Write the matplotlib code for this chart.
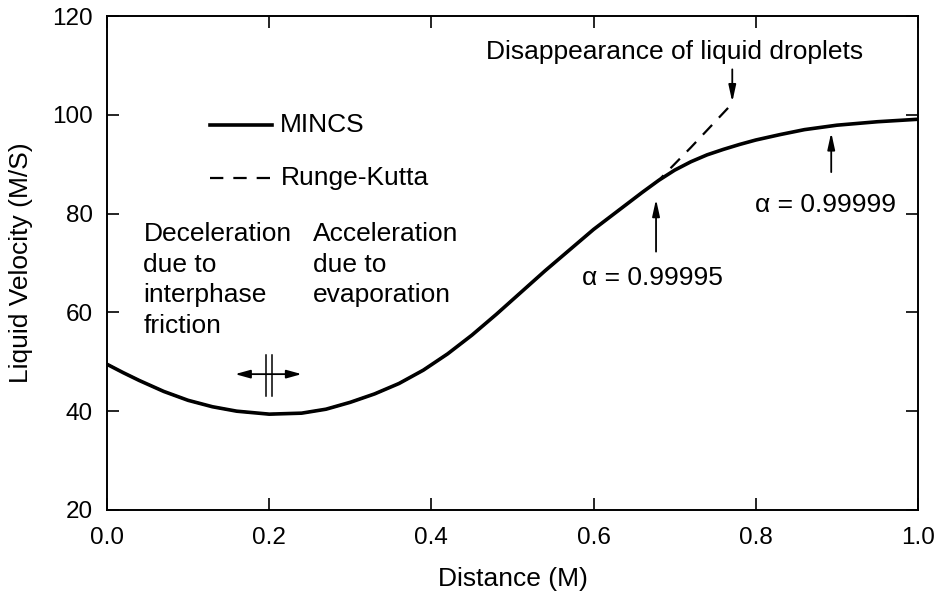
import matplotlib
matplotlib.use("Agg")
import matplotlib.pyplot as plt

plt.rcParams['font.family'] = ['Liberation Sans', 'DejaVu Sans']

# dane
distance = [0.00, 0.02, 0.04, 0.07, 0.10, 0.13, 0.16, 0.20, 0.24, 0.27, 0.30,
            0.33, 0.36, 0.39, 0.42, 0.45, 0.48, 0.51, 0.54, 0.57, 0.60, 0.62,
            0.64, 0.66, 0.68, 0.70, 0.72, 0.74, 0.76, 0.78, 0.80, 0.83, 0.86,
            0.90, 0.95, 1.00]
mincs = [49.5, 47.8, 46.2, 44.0, 42.2, 40.9, 40.0, 39.4, 39.6, 40.4, 41.8,
         43.5, 45.6, 48.3, 51.6, 55.4, 59.6, 64.0, 68.4, 72.6, 76.8, 79.3,
         81.8, 84.3, 86.7, 88.8, 90.5, 91.9, 93.0, 94.0, 94.9, 96.0, 97.0,
         97.9, 98.6, 99.1]

rk_distance = distance[:25] + [0.72, 0.771]
rk_velocity = mincs[:25] + [93.4, 102.3]

x_ticks = [0.0, 0.2, 0.4, 0.6, 0.8, 1.0]
x_labels = ["0.0", "0.2", "0.4", "0.6", "0.8", "1.0"]
y_ticks = [20, 40, 60, 80, 100, 120]

fig = plt.figure(figsize=(9.4, 5.98), dpi=100)
ax = fig.add_axes([0.1138, 0.1472, 0.8628, 0.826])

ax.plot(distance, mincs, color='black', lw=2.6, solid_capstyle='butt',
        solid_joinstyle='round')
ax.plot(rk_distance, rk_velocity, color='black', lw=1.6, linestyle=(0, (6, 4.5)))

ax.set_xlim(0, 1.0)
ax.set_ylim(20, 120)
ax.set_xticks(x_ticks)
ax.set_xticklabels(x_labels)
ax.set_yticks(y_ticks)
ax.tick_params(direction='in', length=8.5, width=1.2, labelsize=17.5,
               top=True, right=True)
ax.tick_params(axis='x', pad=12)
ax.tick_params(axis='y', pad=10)
for s in ax.spines.values():
    s.set_linewidth(1.4)

ax.set_xlabel('Distance (M)', fontsize=19, labelpad=13)
ax.set_ylabel('Liquid Velocity (M/S)', fontsize=19, labelpad=14)

# legenda recznie, jak w oryginale
ax.plot([0.127, 0.203], [97.9, 97.9], color='black', lw=2.6)
ax.text(0.213, 97.9, 'MINCS', fontsize=19, va='center', ha='left')
ax.plot([0.127, 0.203], [87.2, 87.2], color='black', lw=1.6, linestyle=(0, (6, 4.5)))
ax.text(0.215, 87.2, 'Runge-Kutta', fontsize=19, va='center', ha='left')

# opisy
ax.text(0.045, 78.3, 'Deceleration\ndue to\ninterphase\nfriction', fontsize=19,
        va='top', ha='left', linespacing=1.35)
ax.text(0.254, 78.3, 'Acceleration\ndue to\nevaporation', fontsize=19,
        va='top', ha='left', linespacing=1.35)

arrow = dict(arrowstyle='-|>,head_length=1.0,head_width=0.22', color='black',
             lw=1.3, shrinkA=0, shrinkB=0)

ax.text(0.70, 112.7, 'Disappearance of liquid droplets', fontsize=19,
        va='center', ha='center')
ax.annotate('', xy=(0.771, 102.6), xytext=(0.771, 109.2), arrowprops=arrow)

ax.text(0.586, 67.0, '\u03b1 = 0.99995', fontsize=19, va='center', ha='left')
ax.annotate('', xy=(0.677, 82.9), xytext=(0.677, 72.3), arrowprops=arrow)

ax.text(0.973, 81.7, '\u03b1 = 0.99999', fontsize=19, va='center', ha='right')
ax.annotate('', xy=(0.893, 96.4), xytext=(0.893, 88.4), arrowprops=arrow)

# strzalka podwojna przy minimum
ax.annotate('', xy=(0.158, 47.5), xytext=(0.240, 47.5),
            arrowprops=dict(arrowstyle='<|-|>,head_length=0.9,head_width=0.25',
                            color='black', lw=1.3, shrinkA=0, shrinkB=0))
ax.plot([0.196, 0.196], [43.0, 51.4], color='black', lw=1.1)
ax.plot([0.203, 0.203], [43.0, 51.4], color='black', lw=1.1)

plt.savefig('out.png', dpi=100)
